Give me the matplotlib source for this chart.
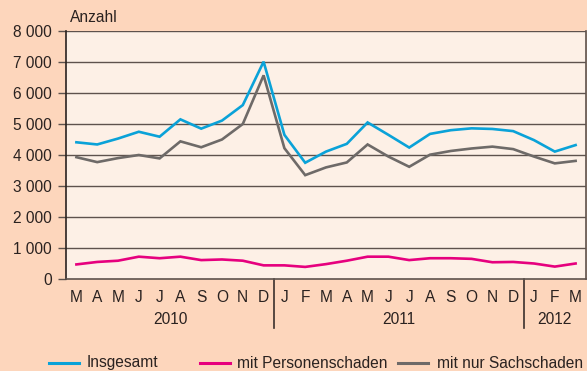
import matplotlib
matplotlib.use("Agg")
import matplotlib.pyplot as plt
from matplotlib.lines import Line2D
from matplotlib.transforms import blended_transform_factory

plt.rcParams['font.family'] = ['Liberation Sans', 'DejaVu Sans']

# Monthly counts, March 2010 – March 2012
months = ["M", "A", "M", "J", "J", "A", "S", "O", "N", "D",
          "J", "F", "M", "A", "M", "J", "J", "A", "S", "O", "N", "D",
          "J", "F", "M"]
years = ["2010", "2011", "2012"]
year_spans = [(0, 9), (10, 21), (22, 24)]

insgesamt = [4410, 4340, 4530, 4750, 4590, 5150, 4850, 5110, 5610, 7010,
             4650, 3750, 4110, 4360, 5050, 4650, 4240, 4680, 4800, 4860,
             4840, 4770, 4480, 4110, 4320]
personenschaden = [470, 550, 590, 720, 670, 720, 610, 630, 590, 440,
                   440, 390, 480, 590, 720, 720, 610, 670, 670, 650,
                   540, 550, 500, 400, 500]
sachschaden = [3930, 3770, 3900, 4000, 3890, 4440, 4250, 4500, 5000, 6570,
               4220, 3350, 3600, 3760, 4340, 3950, 3620, 4010, 4130, 4210,
               4270, 4190, 3950, 3730, 3810]

series = [("Insgesamt", insgesamt, "#0aa2d8"),
          ("mit Personenschaden", personenschaden, "#e6007e"),
          ("mit nur Sachschaden", sachschaden, "#6e6a68")]

W, H = 587, 371
FS = 11.2
fig = plt.figure(figsize=(W / 100, H / 100), dpi=100)
fig.patch.set_facecolor("#fdd6bc")

ax = fig.add_axes([66 / W, (H - 279) / H, (586 - 66) / W, (279 - 31) / H])
ax.set_facecolor("#fdf0e6")

text_col = "#2a2220"
grid_col = "#5e524d"

x = list(range(len(months)))
for name, vals, col in series:
    ax.plot(x, vals, color=col, lw=1.9, solid_joinstyle="miter", zorder=3)

ax.set_xlim(-0.5, len(months) - 0.5)
ax.set_ylim(0, 8000)
yt = list(range(0, 8001, 1000))
ax.set_yticks(yt)
ax.set_yticklabels([f"{v:,}".replace(",", " ") for v in yt])
ax.tick_params(axis="y", length=6, width=1, color=grid_col, pad=4,
               labelsize=FS, labelcolor=text_col)
for v in yt[1:]:
    ax.axhline(v, color=grid_col, lw=1, zorder=1)

ax.set_xticks(x)
ax.set_xticklabels(months)
ax.tick_params(axis="x", length=0, pad=8, labelsize=FS, labelcolor=text_col)

for side in ["left", "right", "bottom"]:
    ax.spines[side].set_color(grid_col)
    ax.spines[side].set_linewidth(1.2)
ax.spines["top"].set_visible(False)
ax.spines["left"].set_color("#2a2220")

# Year labels and separators below the axis
trans = blended_transform_factory(ax.transData, ax.transAxes)
for label, (a, b) in zip(years, year_spans):
    ax.text((a + b) / 2, -41 / 248, label, transform=trans, ha="center",
            va="center", fontsize=FS, color=text_col)
for sep in [9.5, 21.5]:
    ax.add_line(Line2D([sep, sep], [0, -49 / 248], transform=trans,
                       color="#3a302c", lw=1.2, clip_on=False))

fig.text(70 / W, 1 - 17 / H, "Anzahl", fontsize=FS, color=text_col,
         ha="left", va="center")

# Legend row
leg_y = 1 - 363 / H
legend_pos = [(49, 87), (200, 237), (398, 437)]
for (name, vals, col), (lx, tx) in zip(series, legend_pos):
    fig.add_artist(Line2D([lx / W, (lx + 30) / W], [leg_y, leg_y],
                          transform=fig.transFigure, color=col, lw=2.2))
    fig.text(tx / W, leg_y, name, fontsize=FS, color=text_col,
             ha="left", va="center")

fig.savefig("out.png", dpi=100, facecolor=fig.get_facecolor())
